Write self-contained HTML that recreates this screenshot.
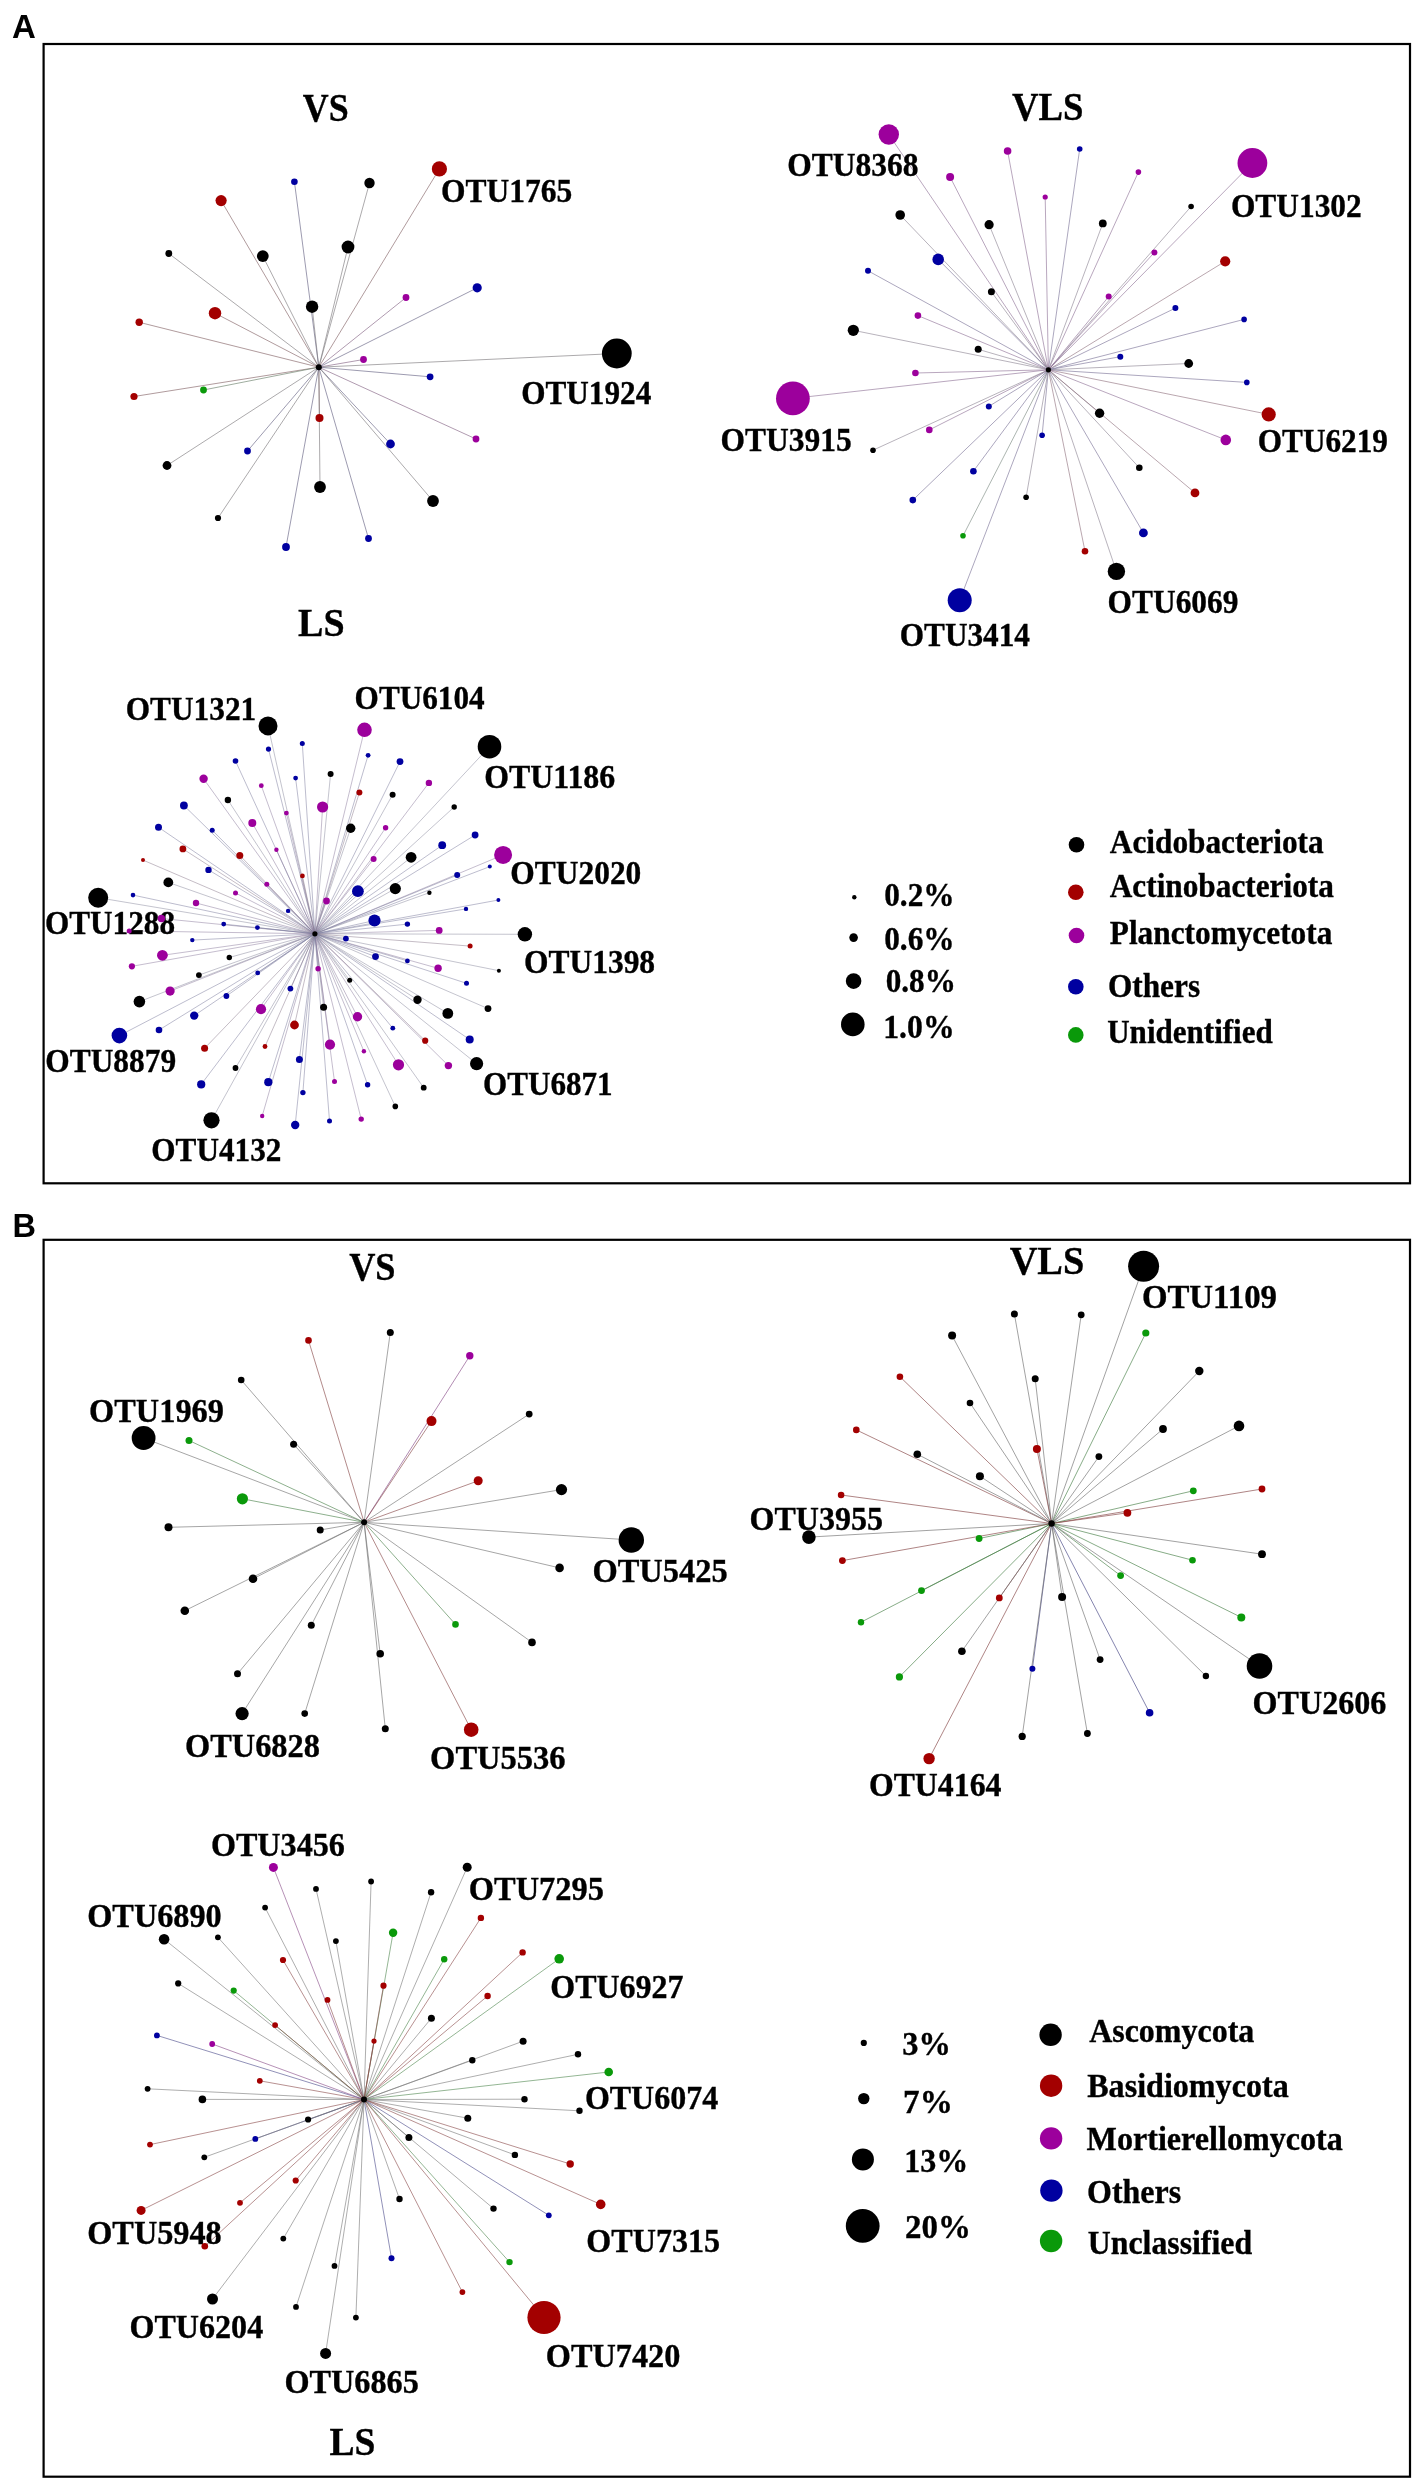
<!DOCTYPE html><html><head><meta charset="utf-8"><style>html,body{margin:0;padding:0;background:#fff;}svg{display:block;filter:blur(0.4px);}text{font-family:"Liberation Serif",serif;font-weight:bold;fill:#000;stroke:#000;stroke-width:0.35px;}.lab{font-family:"Liberation Sans",sans-serif;font-weight:bold;stroke:none;}</style></head><body>
<svg width="1421" height="2483" viewBox="0 0 1421 2483">
<rect x="0" y="0" width="1421" height="2483" fill="#fff"/>
<rect x="43.6" y="44" width="1366.4" height="1139.3" fill="none" stroke="#000" stroke-width="2.2"/>
<rect x="43.6" y="1239.8" width="1366.4" height="1236.9" fill="none" stroke="#000" stroke-width="2.2"/>
<g stroke-width="1.0" stroke-opacity="0.65" fill="none">
<line x1="318.8" y1="367.2" x2="294.4" y2="181.7" stroke="#696686"/>
<line x1="318.8" y1="367.2" x2="369.5" y2="183.0" stroke="#807c80"/>
<line x1="318.8" y1="367.2" x2="439.4" y2="168.9" stroke="#866669"/>
<line x1="318.8" y1="367.2" x2="221.1" y2="200.6" stroke="#866669"/>
<line x1="318.8" y1="367.2" x2="168.8" y2="253.5" stroke="#807c80"/>
<line x1="318.8" y1="367.2" x2="262.8" y2="256.1" stroke="#807c80"/>
<line x1="318.8" y1="367.2" x2="348.0" y2="247.0" stroke="#807c80"/>
<line x1="318.8" y1="367.2" x2="312.1" y2="306.7" stroke="#807c80"/>
<line x1="318.8" y1="367.2" x2="406.0" y2="297.5" stroke="#856685"/>
<line x1="318.8" y1="367.2" x2="477.2" y2="287.8" stroke="#696686"/>
<line x1="318.8" y1="367.2" x2="215.0" y2="313.2" stroke="#866669"/>
<line x1="318.8" y1="367.2" x2="139.2" y2="322.3" stroke="#866669"/>
<line x1="318.8" y1="367.2" x2="363.5" y2="359.5" stroke="#856685"/>
<line x1="318.8" y1="367.2" x2="616.8" y2="353.5" stroke="#807c80"/>
<line x1="318.8" y1="367.2" x2="430.1" y2="376.8" stroke="#696686"/>
<line x1="318.8" y1="367.2" x2="134.0" y2="396.5" stroke="#866669"/>
<line x1="318.8" y1="367.2" x2="203.5" y2="390.0" stroke="#6b816b"/>
<line x1="318.8" y1="367.2" x2="319.5" y2="418.0" stroke="#866669"/>
<line x1="318.8" y1="367.2" x2="390.5" y2="444.0" stroke="#696686"/>
<line x1="318.8" y1="367.2" x2="476.0" y2="439.0" stroke="#856685"/>
<line x1="318.8" y1="367.2" x2="167.0" y2="465.5" stroke="#807c80"/>
<line x1="318.8" y1="367.2" x2="247.5" y2="451.0" stroke="#696686"/>
<line x1="318.8" y1="367.2" x2="320.0" y2="487.0" stroke="#807c80"/>
<line x1="318.8" y1="367.2" x2="433.0" y2="501.0" stroke="#807c80"/>
<line x1="318.8" y1="367.2" x2="218.0" y2="518.0" stroke="#807c80"/>
<line x1="318.8" y1="367.2" x2="286.0" y2="547.0" stroke="#696686"/>
<line x1="318.8" y1="367.2" x2="368.5" y2="538.5" stroke="#696686"/>
</g>
<g stroke-width="1.0" stroke-opacity="0.6" fill="none">
<line x1="1048.4" y1="369.8" x2="888.8" y2="134.5" stroke="#8b6d92"/>
<line x1="1048.4" y1="369.8" x2="1007.6" y2="151.0" stroke="#8b6d92"/>
<line x1="1048.4" y1="369.8" x2="1079.7" y2="149.0" stroke="#746d92"/>
<line x1="1048.4" y1="369.8" x2="950.1" y2="177.0" stroke="#8b6d92"/>
<line x1="1048.4" y1="369.8" x2="1138.4" y2="172.1" stroke="#8b6d92"/>
<line x1="1048.4" y1="369.8" x2="1045.2" y2="197.0" stroke="#8b6d92"/>
<line x1="1048.4" y1="369.8" x2="1191.1" y2="206.5" stroke="#888090"/>
<line x1="1048.4" y1="369.8" x2="900.2" y2="215.0" stroke="#888090"/>
<line x1="1048.4" y1="369.8" x2="989.1" y2="224.7" stroke="#888090"/>
<line x1="1048.4" y1="369.8" x2="1102.8" y2="223.4" stroke="#888090"/>
<line x1="1048.4" y1="369.8" x2="1252.4" y2="163.0" stroke="#8b6d92"/>
<line x1="1048.4" y1="369.8" x2="1154.4" y2="252.4" stroke="#8b6d92"/>
<line x1="1048.4" y1="369.8" x2="1225.2" y2="261.3" stroke="#8c6d7a"/>
<line x1="1048.4" y1="369.8" x2="938.2" y2="259.4" stroke="#746d92"/>
<line x1="1048.4" y1="369.8" x2="868.0" y2="270.8" stroke="#746d92"/>
<line x1="1048.4" y1="369.8" x2="991.4" y2="291.8" stroke="#888090"/>
<line x1="1048.4" y1="369.8" x2="1108.7" y2="296.6" stroke="#8b6d92"/>
<line x1="1048.4" y1="369.8" x2="1175.4" y2="308.1" stroke="#746d92"/>
<line x1="1048.4" y1="369.8" x2="1244.1" y2="319.4" stroke="#746d92"/>
<line x1="1048.4" y1="369.8" x2="917.9" y2="315.6" stroke="#8b6d92"/>
<line x1="1048.4" y1="369.8" x2="853.3" y2="330.3" stroke="#888090"/>
<line x1="1048.4" y1="369.8" x2="978.2" y2="349.3" stroke="#888090"/>
<line x1="1048.4" y1="369.8" x2="1120.3" y2="356.7" stroke="#746d92"/>
<line x1="1048.4" y1="369.8" x2="1188.7" y2="363.5" stroke="#888090"/>
<line x1="1048.4" y1="369.8" x2="915.4" y2="373.0" stroke="#8b6d92"/>
<line x1="1048.4" y1="369.8" x2="1246.8" y2="382.4" stroke="#746d92"/>
<line x1="1048.4" y1="369.8" x2="792.9" y2="398.4" stroke="#8b6d92"/>
<line x1="1048.4" y1="369.8" x2="988.8" y2="406.4" stroke="#746d92"/>
<line x1="1048.4" y1="369.8" x2="1099.6" y2="413.2" stroke="#888090"/>
<line x1="1048.4" y1="369.8" x2="1268.7" y2="414.4" stroke="#8c6d7a"/>
<line x1="1048.4" y1="369.8" x2="929.3" y2="429.9" stroke="#8b6d92"/>
<line x1="1048.4" y1="369.8" x2="1042.1" y2="435.3" stroke="#746d92"/>
<line x1="1048.4" y1="369.8" x2="1225.8" y2="439.9" stroke="#8b6d92"/>
<line x1="1048.4" y1="369.8" x2="873.0" y2="450.2" stroke="#888090"/>
<line x1="1048.4" y1="369.8" x2="1139.3" y2="467.7" stroke="#888090"/>
<line x1="1048.4" y1="369.8" x2="973.4" y2="471.2" stroke="#746d92"/>
<line x1="1048.4" y1="369.8" x2="1195.0" y2="492.9" stroke="#8c6d7a"/>
<line x1="1048.4" y1="369.8" x2="1026.1" y2="497.3" stroke="#888090"/>
<line x1="1048.4" y1="369.8" x2="912.8" y2="500.1" stroke="#746d92"/>
<line x1="1048.4" y1="369.8" x2="1143.4" y2="532.9" stroke="#746d92"/>
<line x1="1048.4" y1="369.8" x2="963.0" y2="535.8" stroke="#75847c"/>
<line x1="1048.4" y1="369.8" x2="1085.0" y2="551.3" stroke="#8c6d7a"/>
<line x1="1048.4" y1="369.8" x2="1116.4" y2="571.4" stroke="#888090"/>
<line x1="1048.4" y1="369.8" x2="959.7" y2="600.2" stroke="#746d92"/>
</g>
<g stroke-width="1.0" stroke-opacity="0.5" fill="none">
<line x1="314.9" y1="933.8" x2="268.0" y2="725.9" stroke="#8a8a9e"/>
<line x1="314.9" y1="933.8" x2="364.5" y2="729.8" stroke="#8c7c9e"/>
<line x1="314.9" y1="933.8" x2="489.5" y2="746.7" stroke="#8a8a9e"/>
<line x1="314.9" y1="933.8" x2="302.3" y2="743.6" stroke="#7c7c9e"/>
<line x1="314.9" y1="933.8" x2="268.5" y2="749.1" stroke="#7c7c9e"/>
<line x1="314.9" y1="933.8" x2="368.1" y2="755.3" stroke="#7c7c9e"/>
<line x1="314.9" y1="933.8" x2="235.5" y2="761.0" stroke="#7c7c9e"/>
<line x1="314.9" y1="933.8" x2="400.0" y2="761.6" stroke="#7c7c9e"/>
<line x1="314.9" y1="933.8" x2="330.6" y2="773.9" stroke="#8a8a9e"/>
<line x1="314.9" y1="933.8" x2="203.6" y2="778.8" stroke="#8c7c9e"/>
<line x1="314.9" y1="933.8" x2="295.6" y2="778.1" stroke="#7c7c9e"/>
<line x1="314.9" y1="933.8" x2="261.3" y2="785.7" stroke="#8c7c9e"/>
<line x1="314.9" y1="933.8" x2="359.4" y2="792.6" stroke="#8c7c8e"/>
<line x1="314.9" y1="933.8" x2="392.6" y2="794.7" stroke="#8a8a9e"/>
<line x1="314.9" y1="933.8" x2="227.9" y2="800.0" stroke="#8a8a9e"/>
<line x1="314.9" y1="933.8" x2="428.9" y2="782.9" stroke="#8c7c9e"/>
<line x1="314.9" y1="933.8" x2="183.9" y2="805.5" stroke="#7c7c9e"/>
<line x1="314.9" y1="933.8" x2="322.6" y2="807.0" stroke="#8c7c9e"/>
<line x1="314.9" y1="933.8" x2="454.2" y2="807.0" stroke="#8a8a9e"/>
<line x1="314.9" y1="933.8" x2="286.4" y2="813.1" stroke="#8c7c9e"/>
<line x1="314.9" y1="933.8" x2="252.3" y2="823.1" stroke="#8c7c9e"/>
<line x1="314.9" y1="933.8" x2="158.5" y2="827.3" stroke="#7c7c9e"/>
<line x1="314.9" y1="933.8" x2="350.7" y2="828.3" stroke="#8a8a9e"/>
<line x1="314.9" y1="933.8" x2="385.6" y2="827.8" stroke="#8c7c9e"/>
<line x1="314.9" y1="933.8" x2="212.2" y2="830.2" stroke="#7c7c9e"/>
<line x1="314.9" y1="933.8" x2="475.1" y2="835.0" stroke="#7c7c9e"/>
<line x1="314.9" y1="933.8" x2="442.2" y2="845.2" stroke="#7c7c9e"/>
<line x1="314.9" y1="933.8" x2="182.9" y2="848.9" stroke="#8c7c8e"/>
<line x1="314.9" y1="933.8" x2="276.4" y2="849.8" stroke="#8c7c9e"/>
<line x1="314.9" y1="933.8" x2="503.1" y2="854.9" stroke="#8c7c9e"/>
<line x1="314.9" y1="933.8" x2="239.8" y2="855.4" stroke="#8c7c8e"/>
<line x1="314.9" y1="933.8" x2="411.1" y2="857.3" stroke="#8a8a9e"/>
<line x1="314.9" y1="933.8" x2="373.6" y2="859.0" stroke="#8c7c9e"/>
<line x1="314.9" y1="933.8" x2="143.0" y2="860.1" stroke="#8c7c8e"/>
<line x1="314.9" y1="933.8" x2="489.8" y2="866.6" stroke="#7c7c9e"/>
<line x1="314.9" y1="933.8" x2="208.5" y2="869.9" stroke="#7c7c9e"/>
<line x1="314.9" y1="933.8" x2="457.2" y2="875.1" stroke="#7c7c9e"/>
<line x1="314.9" y1="933.8" x2="302.4" y2="875.9" stroke="#8c7c8e"/>
<line x1="314.9" y1="933.8" x2="168.3" y2="882.4" stroke="#8a8a9e"/>
<line x1="314.9" y1="933.8" x2="266.8" y2="884.3" stroke="#8c7c9e"/>
<line x1="314.9" y1="933.8" x2="395.3" y2="888.6" stroke="#8a8a9e"/>
<line x1="314.9" y1="933.8" x2="357.9" y2="891.2" stroke="#7c7c9e"/>
<line x1="314.9" y1="933.8" x2="429.4" y2="892.7" stroke="#8a8a9e"/>
<line x1="314.9" y1="933.8" x2="235.5" y2="893.0" stroke="#8c7c9e"/>
<line x1="314.9" y1="933.8" x2="133.0" y2="895.1" stroke="#7c7c9e"/>
<line x1="314.9" y1="933.8" x2="98.2" y2="897.7" stroke="#8a8a9e"/>
<line x1="314.9" y1="933.8" x2="326.5" y2="901.0" stroke="#8c7c9e"/>
<line x1="314.9" y1="933.8" x2="498.4" y2="900.0" stroke="#7c7c9e"/>
<line x1="314.9" y1="933.8" x2="196.0" y2="903.0" stroke="#8c7c9e"/>
<line x1="314.9" y1="933.8" x2="466.0" y2="908.9" stroke="#7c7c9e"/>
<line x1="314.9" y1="933.8" x2="288.1" y2="910.9" stroke="#7c7c9e"/>
<line x1="314.9" y1="933.8" x2="161.4" y2="918.5" stroke="#8c7c9e"/>
<line x1="314.9" y1="933.8" x2="374.5" y2="920.5" stroke="#7c7c9e"/>
<line x1="314.9" y1="933.8" x2="223.7" y2="924.1" stroke="#7c7c9e"/>
<line x1="314.9" y1="933.8" x2="407.4" y2="924.1" stroke="#7c7c9e"/>
<line x1="314.9" y1="933.8" x2="257.4" y2="927.6" stroke="#7c7c9e"/>
<line x1="314.9" y1="933.8" x2="439.2" y2="930.4" stroke="#8c7c9e"/>
<line x1="314.9" y1="933.8" x2="129.2" y2="930.9" stroke="#8c7c9e"/>
<line x1="314.9" y1="933.8" x2="524.9" y2="934.3" stroke="#8a8a9e"/>
<line x1="314.9" y1="933.8" x2="345.9" y2="938.6" stroke="#7c7c9e"/>
<line x1="314.9" y1="933.8" x2="192.3" y2="940.1" stroke="#7c7c9e"/>
<line x1="314.9" y1="933.8" x2="470.1" y2="946.1" stroke="#8c7c8e"/>
<line x1="314.9" y1="933.8" x2="162.4" y2="955.3" stroke="#8c7c9e"/>
<line x1="314.9" y1="933.8" x2="375.5" y2="956.6" stroke="#7c7c9e"/>
<line x1="314.9" y1="933.8" x2="229.3" y2="957.5" stroke="#8a8a9e"/>
<line x1="314.9" y1="933.8" x2="407.4" y2="960.9" stroke="#7c7c9e"/>
<line x1="314.9" y1="933.8" x2="131.9" y2="966.3" stroke="#8c7c9e"/>
<line x1="314.9" y1="933.8" x2="438.1" y2="968.3" stroke="#8c7c9e"/>
<line x1="314.9" y1="933.8" x2="318.1" y2="968.7" stroke="#8c7c9e"/>
<line x1="314.9" y1="933.8" x2="498.9" y2="970.7" stroke="#8a8a9e"/>
<line x1="314.9" y1="933.8" x2="257.7" y2="972.9" stroke="#7c7c9e"/>
<line x1="314.9" y1="933.8" x2="198.9" y2="975.1" stroke="#8a8a9e"/>
<line x1="314.9" y1="933.8" x2="349.7" y2="980.3" stroke="#8a8a9e"/>
<line x1="314.9" y1="933.8" x2="466.5" y2="983.3" stroke="#7c7c9e"/>
<line x1="314.9" y1="933.8" x2="290.4" y2="988.6" stroke="#7c7c9e"/>
<line x1="314.9" y1="933.8" x2="170.1" y2="991.1" stroke="#8c7c9e"/>
<line x1="314.9" y1="933.8" x2="226.4" y2="996.0" stroke="#7c7c9e"/>
<line x1="314.9" y1="933.8" x2="417.5" y2="999.8" stroke="#8a8a9e"/>
<line x1="314.9" y1="933.8" x2="139.4" y2="1001.6" stroke="#8a8a9e"/>
<line x1="314.9" y1="933.8" x2="323.6" y2="1007.3" stroke="#8a8a9e"/>
<line x1="314.9" y1="933.8" x2="488.0" y2="1008.6" stroke="#8a8a9e"/>
<line x1="314.9" y1="933.8" x2="261.0" y2="1009.2" stroke="#8c7c9e"/>
<line x1="314.9" y1="933.8" x2="447.8" y2="1013.4" stroke="#8a8a9e"/>
<line x1="314.9" y1="933.8" x2="194.2" y2="1015.6" stroke="#7c7c9e"/>
<line x1="314.9" y1="933.8" x2="357.5" y2="1016.8" stroke="#8c7c9e"/>
<line x1="314.9" y1="933.8" x2="294.5" y2="1025.0" stroke="#8c7c8e"/>
<line x1="314.9" y1="933.8" x2="392.8" y2="1028.2" stroke="#7c7c9e"/>
<line x1="314.9" y1="933.8" x2="159.0" y2="1030.0" stroke="#7c7c9e"/>
<line x1="314.9" y1="933.8" x2="119.4" y2="1035.6" stroke="#7c7c9e"/>
<line x1="314.9" y1="933.8" x2="469.7" y2="1039.6" stroke="#7c7c9e"/>
<line x1="314.9" y1="933.8" x2="425.2" y2="1040.7" stroke="#8c7c8e"/>
<line x1="314.9" y1="933.8" x2="330.0" y2="1044.6" stroke="#8c7c9e"/>
<line x1="314.9" y1="933.8" x2="265.0" y2="1046.5" stroke="#8c7c8e"/>
<line x1="314.9" y1="933.8" x2="204.6" y2="1048.3" stroke="#8c7c8e"/>
<line x1="314.9" y1="933.8" x2="363.9" y2="1051.2" stroke="#8c7c9e"/>
<line x1="314.9" y1="933.8" x2="299.4" y2="1059.4" stroke="#7c7c9e"/>
<line x1="314.9" y1="933.8" x2="476.6" y2="1063.7" stroke="#8a8a9e"/>
<line x1="314.9" y1="933.8" x2="398.5" y2="1064.8" stroke="#8c7c9e"/>
<line x1="314.9" y1="933.8" x2="448.4" y2="1065.6" stroke="#8c7c9e"/>
<line x1="314.9" y1="933.8" x2="235.5" y2="1068.0" stroke="#8a8a9e"/>
<line x1="314.9" y1="933.8" x2="334.5" y2="1081.6" stroke="#8c7c9e"/>
<line x1="314.9" y1="933.8" x2="268.3" y2="1082.2" stroke="#7c7c9e"/>
<line x1="314.9" y1="933.8" x2="201.2" y2="1084.4" stroke="#7c7c9e"/>
<line x1="314.9" y1="933.8" x2="367.6" y2="1084.8" stroke="#7c7c9e"/>
<line x1="314.9" y1="933.8" x2="423.7" y2="1087.7" stroke="#8a8a9e"/>
<line x1="314.9" y1="933.8" x2="302.9" y2="1092.6" stroke="#7c7c9e"/>
<line x1="314.9" y1="933.8" x2="395.3" y2="1106.4" stroke="#8a8a9e"/>
<line x1="314.9" y1="933.8" x2="262.2" y2="1116.0" stroke="#8c7c9e"/>
<line x1="314.9" y1="933.8" x2="361.2" y2="1119.1" stroke="#8c7c9e"/>
<line x1="314.9" y1="933.8" x2="211.5" y2="1120.3" stroke="#8a8a9e"/>
<line x1="314.9" y1="933.8" x2="329.5" y2="1120.9" stroke="#7c7c9e"/>
<line x1="314.9" y1="933.8" x2="295.2" y2="1125.0" stroke="#7c7c9e"/>
</g>
<g stroke-width="1.0" stroke-opacity="0.62" fill="none">
<line x1="364.1" y1="1522.3" x2="390.3" y2="1332.4" stroke="#707070"/>
<line x1="364.1" y1="1522.3" x2="308.5" y2="1340.4" stroke="#844343"/>
<line x1="364.1" y1="1522.3" x2="469.8" y2="1355.8" stroke="#824382"/>
<line x1="364.1" y1="1522.3" x2="241.2" y2="1380.0" stroke="#707070"/>
<line x1="364.1" y1="1522.3" x2="529.2" y2="1414.1" stroke="#707070"/>
<line x1="364.1" y1="1522.3" x2="431.5" y2="1421.1" stroke="#844343"/>
<line x1="364.1" y1="1522.3" x2="143.6" y2="1438.0" stroke="#707070"/>
<line x1="364.1" y1="1522.3" x2="189.0" y2="1440.5" stroke="#478047"/>
<line x1="364.1" y1="1522.3" x2="293.6" y2="1444.3" stroke="#707070"/>
<line x1="364.1" y1="1522.3" x2="478.2" y2="1480.8" stroke="#844343"/>
<line x1="364.1" y1="1522.3" x2="561.5" y2="1489.6" stroke="#707070"/>
<line x1="364.1" y1="1522.3" x2="242.4" y2="1498.8" stroke="#478047"/>
<line x1="364.1" y1="1522.3" x2="168.5" y2="1527.3" stroke="#707070"/>
<line x1="364.1" y1="1522.3" x2="320.2" y2="1530.0" stroke="#707070"/>
<line x1="364.1" y1="1522.3" x2="631.3" y2="1540.0" stroke="#707070"/>
<line x1="364.1" y1="1522.3" x2="559.6" y2="1567.9" stroke="#707070"/>
<line x1="364.1" y1="1522.3" x2="253.0" y2="1578.8" stroke="#707070"/>
<line x1="364.1" y1="1522.3" x2="184.8" y2="1610.7" stroke="#707070"/>
<line x1="364.1" y1="1522.3" x2="311.3" y2="1625.2" stroke="#707070"/>
<line x1="364.1" y1="1522.3" x2="455.5" y2="1624.4" stroke="#478047"/>
<line x1="364.1" y1="1522.3" x2="532.0" y2="1642.4" stroke="#707070"/>
<line x1="364.1" y1="1522.3" x2="380.2" y2="1653.8" stroke="#707070"/>
<line x1="364.1" y1="1522.3" x2="237.5" y2="1673.8" stroke="#707070"/>
<line x1="364.1" y1="1522.3" x2="242.1" y2="1713.6" stroke="#707070"/>
<line x1="364.1" y1="1522.3" x2="304.7" y2="1713.6" stroke="#707070"/>
<line x1="364.1" y1="1522.3" x2="385.3" y2="1728.8" stroke="#707070"/>
<line x1="364.1" y1="1522.3" x2="471.2" y2="1729.7" stroke="#844343"/>
</g>
<g stroke-width="1.0" stroke-opacity="0.65" fill="none">
<line x1="1051.6" y1="1523.5" x2="1143.6" y2="1266.3" stroke="#707070"/>
<line x1="1051.6" y1="1523.5" x2="1014.4" y2="1314.1" stroke="#707070"/>
<line x1="1051.6" y1="1523.5" x2="1081.2" y2="1314.8" stroke="#707070"/>
<line x1="1051.6" y1="1523.5" x2="1145.8" y2="1333.0" stroke="#478047"/>
<line x1="1051.6" y1="1523.5" x2="952.1" y2="1335.6" stroke="#707070"/>
<line x1="1051.6" y1="1523.5" x2="1199.3" y2="1371.0" stroke="#707070"/>
<line x1="1051.6" y1="1523.5" x2="899.9" y2="1376.7" stroke="#844343"/>
<line x1="1051.6" y1="1523.5" x2="1035.2" y2="1378.7" stroke="#707070"/>
<line x1="1051.6" y1="1523.5" x2="970.0" y2="1403.0" stroke="#707070"/>
<line x1="1051.6" y1="1523.5" x2="1239.0" y2="1425.9" stroke="#707070"/>
<line x1="1051.6" y1="1523.5" x2="1163.0" y2="1429.0" stroke="#707070"/>
<line x1="1051.6" y1="1523.5" x2="856.3" y2="1429.9" stroke="#844343"/>
<line x1="1051.6" y1="1523.5" x2="1036.9" y2="1449.0" stroke="#844343"/>
<line x1="1051.6" y1="1523.5" x2="917.3" y2="1454.2" stroke="#707070"/>
<line x1="1051.6" y1="1523.5" x2="1098.9" y2="1456.6" stroke="#707070"/>
<line x1="1051.6" y1="1523.5" x2="979.9" y2="1476.2" stroke="#707070"/>
<line x1="1051.6" y1="1523.5" x2="1262.0" y2="1489.0" stroke="#844343"/>
<line x1="1051.6" y1="1523.5" x2="1193.3" y2="1490.8" stroke="#478047"/>
<line x1="1051.6" y1="1523.5" x2="841.1" y2="1495.0" stroke="#844343"/>
<line x1="1051.6" y1="1523.5" x2="1127.4" y2="1512.8" stroke="#844343"/>
<line x1="1051.6" y1="1523.5" x2="808.9" y2="1537.1" stroke="#707070"/>
<line x1="1051.6" y1="1523.5" x2="979.1" y2="1538.5" stroke="#478047"/>
<line x1="1051.6" y1="1523.5" x2="1262.0" y2="1554.2" stroke="#707070"/>
<line x1="1051.6" y1="1523.5" x2="842.4" y2="1560.6" stroke="#844343"/>
<line x1="1051.6" y1="1523.5" x2="1192.5" y2="1560.2" stroke="#478047"/>
<line x1="1051.6" y1="1523.5" x2="1120.6" y2="1575.6" stroke="#478047"/>
<line x1="1051.6" y1="1523.5" x2="921.5" y2="1590.6" stroke="#478047"/>
<line x1="1051.6" y1="1523.5" x2="1062.1" y2="1597.0" stroke="#707070"/>
<line x1="1051.6" y1="1523.5" x2="999.3" y2="1597.9" stroke="#844343"/>
<line x1="1051.6" y1="1523.5" x2="1241.3" y2="1617.4" stroke="#478047"/>
<line x1="1051.6" y1="1523.5" x2="861.0" y2="1622.2" stroke="#478047"/>
<line x1="1051.6" y1="1523.5" x2="961.9" y2="1651.2" stroke="#707070"/>
<line x1="1051.6" y1="1523.5" x2="1100.1" y2="1659.6" stroke="#707070"/>
<line x1="1051.6" y1="1523.5" x2="1259.5" y2="1666.0" stroke="#707070"/>
<line x1="1051.6" y1="1523.5" x2="1032.4" y2="1668.7" stroke="#434383"/>
<line x1="1051.6" y1="1523.5" x2="1205.9" y2="1676.0" stroke="#707070"/>
<line x1="1051.6" y1="1523.5" x2="899.4" y2="1676.9" stroke="#478047"/>
<line x1="1051.6" y1="1523.5" x2="1149.6" y2="1712.7" stroke="#434383"/>
<line x1="1051.6" y1="1523.5" x2="1087.4" y2="1733.5" stroke="#707070"/>
<line x1="1051.6" y1="1523.5" x2="1022.2" y2="1736.4" stroke="#707070"/>
<line x1="1051.6" y1="1523.5" x2="929.1" y2="1758.6" stroke="#844343"/>
</g>
<g stroke-width="1.0" stroke-opacity="0.6" fill="none">
<line x1="364.0" y1="2099.5" x2="273.4" y2="1867.4" stroke="#864886"/>
<line x1="364.0" y1="2099.5" x2="467.2" y2="1867.3" stroke="#787878"/>
<line x1="364.0" y1="2099.5" x2="371.1" y2="1881.5" stroke="#787878"/>
<line x1="364.0" y1="2099.5" x2="316.0" y2="1888.9" stroke="#787878"/>
<line x1="364.0" y1="2099.5" x2="431.1" y2="1892.2" stroke="#787878"/>
<line x1="364.0" y1="2099.5" x2="265.1" y2="1907.6" stroke="#787878"/>
<line x1="364.0" y1="2099.5" x2="480.9" y2="1917.9" stroke="#894848"/>
<line x1="364.0" y1="2099.5" x2="393.1" y2="1932.7" stroke="#4c854c"/>
<line x1="364.0" y1="2099.5" x2="217.9" y2="1937.3" stroke="#787878"/>
<line x1="364.0" y1="2099.5" x2="164.1" y2="1939.2" stroke="#787878"/>
<line x1="364.0" y1="2099.5" x2="335.9" y2="1941.1" stroke="#787878"/>
<line x1="364.0" y1="2099.5" x2="522.6" y2="1952.4" stroke="#894848"/>
<line x1="364.0" y1="2099.5" x2="559.2" y2="1958.8" stroke="#4c854c"/>
<line x1="364.0" y1="2099.5" x2="444.2" y2="1959.3" stroke="#4c854c"/>
<line x1="364.0" y1="2099.5" x2="283.0" y2="1960.0" stroke="#894848"/>
<line x1="364.0" y1="2099.5" x2="178.2" y2="1983.4" stroke="#787878"/>
<line x1="364.0" y1="2099.5" x2="383.5" y2="1985.7" stroke="#894848"/>
<line x1="364.0" y1="2099.5" x2="233.7" y2="1990.6" stroke="#4c854c"/>
<line x1="364.0" y1="2099.5" x2="487.6" y2="1996.0" stroke="#894848"/>
<line x1="364.0" y1="2099.5" x2="327.5" y2="1999.9" stroke="#894848"/>
<line x1="364.0" y1="2099.5" x2="431.4" y2="2018.2" stroke="#787878"/>
<line x1="364.0" y1="2099.5" x2="275.1" y2="2025.1" stroke="#894848"/>
<line x1="364.0" y1="2099.5" x2="156.9" y2="2035.4" stroke="#484888"/>
<line x1="364.0" y1="2099.5" x2="374.0" y2="2041.1" stroke="#894848"/>
<line x1="364.0" y1="2099.5" x2="523.1" y2="2041.2" stroke="#787878"/>
<line x1="364.0" y1="2099.5" x2="212.2" y2="2044.0" stroke="#864886"/>
<line x1="364.0" y1="2099.5" x2="578.0" y2="2054.3" stroke="#787878"/>
<line x1="364.0" y1="2099.5" x2="472.3" y2="2060.2" stroke="#787878"/>
<line x1="364.0" y1="2099.5" x2="608.7" y2="2072.0" stroke="#4c854c"/>
<line x1="364.0" y1="2099.5" x2="259.8" y2="2080.8" stroke="#894848"/>
<line x1="364.0" y1="2099.5" x2="147.6" y2="2088.8" stroke="#787878"/>
<line x1="364.0" y1="2099.5" x2="524.5" y2="2099.2" stroke="#787878"/>
<line x1="364.0" y1="2099.5" x2="202.4" y2="2099.4" stroke="#787878"/>
<line x1="364.0" y1="2099.5" x2="579.5" y2="2110.8" stroke="#787878"/>
<line x1="364.0" y1="2099.5" x2="467.8" y2="2118.2" stroke="#787878"/>
<line x1="364.0" y1="2099.5" x2="308.1" y2="2119.5" stroke="#787878"/>
<line x1="364.0" y1="2099.5" x2="408.9" y2="2137.5" stroke="#787878"/>
<line x1="364.0" y1="2099.5" x2="255.3" y2="2138.9" stroke="#484888"/>
<line x1="364.0" y1="2099.5" x2="150.0" y2="2144.6" stroke="#894848"/>
<line x1="364.0" y1="2099.5" x2="514.9" y2="2154.9" stroke="#787878"/>
<line x1="364.0" y1="2099.5" x2="204.3" y2="2157.3" stroke="#787878"/>
<line x1="364.0" y1="2099.5" x2="570.2" y2="2164.0" stroke="#894848"/>
<line x1="364.0" y1="2099.5" x2="295.7" y2="2180.5" stroke="#894848"/>
<line x1="364.0" y1="2099.5" x2="399.5" y2="2199.0" stroke="#787878"/>
<line x1="364.0" y1="2099.5" x2="600.7" y2="2204.4" stroke="#894848"/>
<line x1="364.0" y1="2099.5" x2="240.0" y2="2202.8" stroke="#894848"/>
<line x1="364.0" y1="2099.5" x2="493.5" y2="2208.6" stroke="#787878"/>
<line x1="364.0" y1="2099.5" x2="141.1" y2="2210.4" stroke="#894848"/>
<line x1="364.0" y1="2099.5" x2="548.8" y2="2215.3" stroke="#484888"/>
<line x1="364.0" y1="2099.5" x2="283.3" y2="2238.6" stroke="#787878"/>
<line x1="364.0" y1="2099.5" x2="204.8" y2="2246.3" stroke="#894848"/>
<line x1="364.0" y1="2099.5" x2="391.5" y2="2258.2" stroke="#484888"/>
<line x1="364.0" y1="2099.5" x2="509.5" y2="2262.1" stroke="#4c854c"/>
<line x1="364.0" y1="2099.5" x2="334.5" y2="2265.9" stroke="#787878"/>
<line x1="364.0" y1="2099.5" x2="462.4" y2="2292.1" stroke="#894848"/>
<line x1="364.0" y1="2099.5" x2="212.5" y2="2299.0" stroke="#787878"/>
<line x1="364.0" y1="2099.5" x2="296.0" y2="2306.9" stroke="#787878"/>
<line x1="364.0" y1="2099.5" x2="355.9" y2="2317.6" stroke="#787878"/>
<line x1="364.0" y1="2099.5" x2="544.0" y2="2317.5" stroke="#894848"/>
<line x1="364.0" y1="2099.5" x2="325.6" y2="2353.4" stroke="#787878"/>
</g>
<text class="lab" x="11.9" y="37.6" font-size="33">A</text>
<text class="lab" x="12.6" y="1237.0" font-size="32.5">B</text>
<text x="0" y="0" font-size="39.80" transform="translate(302.86 121.18) scale(0.9020 1)">VS</text>
<text x="0" y="0" font-size="33.00" transform="translate(441.04 201.53) scale(0.9545 1)">OTU1765</text>
<text x="0" y="0" font-size="33.00" transform="translate(521.26 404.25) scale(0.9457 1)">OTU1924</text>
<text x="0" y="0" font-size="39.80" transform="translate(1012.00 120.46) scale(0.9239 1)">VLS</text>
<text x="0" y="0" font-size="33.00" transform="translate(787.26 175.53) scale(0.9545 1)">OTU8368</text>
<text x="0" y="0" font-size="33.00" transform="translate(1230.90 216.61) scale(0.9519 1)">OTU1302</text>
<text x="0" y="0" font-size="33.00" transform="translate(720.40 450.67) scale(0.9556 1)">OTU3915</text>
<text x="0" y="0" font-size="33.00" transform="translate(1257.76 451.67) scale(0.9477 1)">OTU6219</text>
<text x="0" y="0" font-size="33.00" transform="translate(1107.62 613.17) scale(0.9519 1)">OTU6069</text>
<text x="0" y="0" font-size="33.00" transform="translate(899.76 646.39) scale(0.9477 1)">OTU3414</text>
<text x="0" y="0" font-size="39.80" transform="translate(298.06 636.46) scale(0.9561 1)">LS</text>
<text x="0" y="0" font-size="33.00" transform="translate(125.76 720.11) scale(0.9489 1)">OTU1321</text>
<text x="0" y="0" font-size="33.00" transform="translate(354.62 708.67) scale(0.9461 1)">OTU6104</text>
<text x="0" y="0" font-size="33.00" transform="translate(484.26 787.53) scale(0.9657 1)">OTU1186</text>
<text x="0" y="0" font-size="33.00" transform="translate(510.34 884.11) scale(0.9529 1)">OTU2020</text>
<text x="0" y="0" font-size="33.00" transform="translate(44.98 934.17) scale(0.9461 1)">OTU1288</text>
<text x="0" y="0" font-size="33.00" transform="translate(523.98 973.03) scale(0.9540 1)">OTU1398</text>
<text x="0" y="0" font-size="33.00" transform="translate(45.26 1072.17) scale(0.9519 1)">OTU8879</text>
<text x="0" y="0" font-size="33.00" transform="translate(483.04 1095.11) scale(0.9422 1)">OTU6871</text>
<text x="0" y="0" font-size="33.00" transform="translate(151.34 1161.17) scale(0.9461 1)">OTU4132</text>
<text x="0" y="0" font-size="33.00" transform="translate(884.20 905.54) scale(0.9484 1)">0.2%</text>
<text x="0" y="0" font-size="33.00" transform="translate(884.20 950.48) scale(0.9484 1)">0.6%</text>
<text x="0" y="0" font-size="33.00" transform="translate(885.70 992.26) scale(0.9455 1)">0.8%</text>
<text x="0" y="0" font-size="33.00" transform="translate(883.24 1037.76) scale(0.9613 1)">1.0%</text>
<text x="0" y="0" font-size="33.00" transform="translate(1109.78 853.03) scale(0.9489 1)">Acidobacteriota</text>
<text x="0" y="0" font-size="33.00" transform="translate(1109.78 897.17) scale(0.9480 1)">Actinobacteriota</text>
<text x="0" y="0" font-size="33.00" transform="translate(1109.78 944.37) scale(0.9489 1)">Planctomycetota</text>
<text x="0" y="0" font-size="33.00" transform="translate(1107.90 996.53) scale(0.9496 1)">Others</text>
<text x="0" y="0" font-size="33.00" transform="translate(1107.20 1043.11) scale(0.9411 1)">Unidentified</text>
<text x="0" y="0" font-size="39.80" transform="translate(349.14 1279.54) scale(0.9118 1)">VS</text>
<text x="0" y="0" font-size="33.00" transform="translate(89.12 1421.53) scale(0.9810 1)">OTU1969</text>
<text x="0" y="0" font-size="33.00" transform="translate(592.48 1581.67) scale(0.9836 1)">OTU5425</text>
<text x="0" y="0" font-size="33.00" transform="translate(184.98 1756.75) scale(0.9820 1)">OTU6828</text>
<text x="0" y="0" font-size="33.00" transform="translate(430.12 1768.67) scale(0.9857 1)">OTU5536</text>
<text x="0" y="0" font-size="39.80" transform="translate(1009.64 1274.04) scale(0.9637 1)">VLS</text>
<text x="0" y="0" font-size="33.00" transform="translate(1141.90 1307.67) scale(0.9958 1)">OTU1109</text>
<text x="0" y="0" font-size="33.00" transform="translate(749.48 1530.25) scale(0.9711 1)">OTU3955</text>
<text x="0" y="0" font-size="33.00" transform="translate(1252.62 1713.75) scale(0.9732 1)">OTU2606</text>
<text x="0" y="0" font-size="33.00" transform="translate(868.90 1795.67) scale(0.9643 1)">OTU4164</text>
<text x="0" y="0" font-size="33.00" transform="translate(210.90 1855.61) scale(0.9748 1)">OTU3456</text>
<text x="0" y="0" font-size="33.00" transform="translate(468.76 1899.75) scale(0.9836 1)">OTU7295</text>
<text x="0" y="0" font-size="33.00" transform="translate(87.26 1926.75) scale(0.9784 1)">OTU6890</text>
<text x="0" y="0" font-size="33.00" transform="translate(550.26 1998.25) scale(0.9695 1)">OTU6927</text>
<text x="0" y="0" font-size="33.00" transform="translate(584.90 2108.61) scale(0.9695 1)">OTU6074</text>
<text x="0" y="0" font-size="33.00" transform="translate(586.34 2251.89) scale(0.9732 1)">OTU7315</text>
<text x="0" y="0" font-size="33.00" transform="translate(87.26 2243.67) scale(0.9784 1)">OTU5948</text>
<text x="0" y="0" font-size="33.00" transform="translate(129.48 2338.11) scale(0.9726 1)">OTU6204</text>
<text x="0" y="0" font-size="33.00" transform="translate(545.76 2366.89) scale(0.9790 1)">OTU7420</text>
<text x="0" y="0" font-size="33.00" transform="translate(284.48 2392.61) scale(0.9774 1)">OTU6865</text>
<text x="0" y="0" font-size="39.80" transform="translate(329.42 2454.68) scale(0.9442 1)">LS</text>
<text x="0" y="0" font-size="33.00" transform="translate(902.34 2055.29) scale(0.9826 1)">3%</text>
<text x="0" y="0" font-size="33.00" transform="translate(903.12 2113.29) scale(1.0044 1)">7%</text>
<text x="0" y="0" font-size="33.00" transform="translate(904.18 2171.79) scale(0.9700 1)">13%</text>
<text x="0" y="0" font-size="33.00" transform="translate(904.98 2237.57) scale(0.9979 1)">20%</text>
<text x="0" y="0" font-size="33.00" transform="translate(1089.14 2042.47) scale(0.9693 1)">Ascomycota</text>
<text x="0" y="0" font-size="33.00" transform="translate(1087.20 2097.17) scale(0.9727 1)">Basidiomycota</text>
<text x="0" y="0" font-size="33.00" transform="translate(1086.56 2149.57) scale(0.9740 1)">Mortierellomycota</text>
<text x="0" y="0" font-size="33.00" transform="translate(1087.04 2203.39) scale(0.9694 1)">Others</text>
<text x="0" y="0" font-size="33.00" transform="translate(1087.84 2254.03) scale(0.9636 1)">Unclassified</text>
<g>
<circle cx="294.4" cy="181.7" r="3.3" fill="#0000a0"/>
<circle cx="369.5" cy="183.0" r="5.2" fill="#000000"/>
<circle cx="439.4" cy="168.9" r="7.6" fill="#a30000"/>
<circle cx="221.1" cy="200.6" r="5.6" fill="#a30000"/>
<circle cx="168.8" cy="253.5" r="3.4" fill="#000000"/>
<circle cx="262.8" cy="256.1" r="5.9" fill="#000000"/>
<circle cx="348.0" cy="247.0" r="6.4" fill="#000000"/>
<circle cx="312.1" cy="306.7" r="6.2" fill="#000000"/>
<circle cx="406.0" cy="297.5" r="3.4" fill="#9c009c"/>
<circle cx="477.2" cy="287.8" r="4.6" fill="#0000a0"/>
<circle cx="215.0" cy="313.2" r="6.2" fill="#a30000"/>
<circle cx="139.2" cy="322.3" r="3.7" fill="#a30000"/>
<circle cx="363.5" cy="359.5" r="3.4" fill="#9c009c"/>
<circle cx="616.8" cy="353.5" r="14.9" fill="#000000"/>
<circle cx="430.1" cy="376.8" r="3.4" fill="#0000a0"/>
<circle cx="134.0" cy="396.5" r="3.6" fill="#a30000"/>
<circle cx="203.5" cy="390.0" r="3.4" fill="#0a990a"/>
<circle cx="319.5" cy="418.0" r="4.0" fill="#a30000"/>
<circle cx="390.5" cy="444.0" r="4.4" fill="#0000a0"/>
<circle cx="476.0" cy="439.0" r="3.4" fill="#9c009c"/>
<circle cx="167.0" cy="465.5" r="4.4" fill="#000000"/>
<circle cx="247.5" cy="451.0" r="3.4" fill="#0000a0"/>
<circle cx="320.0" cy="487.0" r="5.9" fill="#000000"/>
<circle cx="433.0" cy="501.0" r="5.9" fill="#000000"/>
<circle cx="218.0" cy="518.0" r="3.1" fill="#000000"/>
<circle cx="286.0" cy="547.0" r="3.9" fill="#0000a0"/>
<circle cx="368.5" cy="538.5" r="3.4" fill="#0000a0"/>
<circle cx="318.8" cy="367.2" r="3.0" fill="#000"/>
</g>
<g>
<circle cx="888.8" cy="134.5" r="10.2" fill="#9c009c"/>
<circle cx="1007.6" cy="151.0" r="3.8" fill="#9c009c"/>
<circle cx="1079.7" cy="149.0" r="2.8" fill="#0000a0"/>
<circle cx="950.1" cy="177.0" r="4.0" fill="#9c009c"/>
<circle cx="1138.4" cy="172.1" r="2.8" fill="#9c009c"/>
<circle cx="1045.2" cy="197.0" r="2.6" fill="#9c009c"/>
<circle cx="1191.1" cy="206.5" r="2.8" fill="#000000"/>
<circle cx="900.2" cy="215.0" r="4.8" fill="#000000"/>
<circle cx="989.1" cy="224.7" r="4.6" fill="#000000"/>
<circle cx="1102.8" cy="223.4" r="3.9" fill="#000000"/>
<circle cx="1252.4" cy="163.0" r="14.9" fill="#9c009c"/>
<circle cx="1154.4" cy="252.4" r="3.0" fill="#9c009c"/>
<circle cx="1225.2" cy="261.3" r="5.1" fill="#a30000"/>
<circle cx="938.2" cy="259.4" r="5.8" fill="#0000a0"/>
<circle cx="868.0" cy="270.8" r="3.0" fill="#0000a0"/>
<circle cx="991.4" cy="291.8" r="3.5" fill="#000000"/>
<circle cx="1108.7" cy="296.6" r="3.0" fill="#9c009c"/>
<circle cx="1175.4" cy="308.1" r="3.0" fill="#0000a0"/>
<circle cx="1244.1" cy="319.4" r="2.8" fill="#0000a0"/>
<circle cx="917.9" cy="315.6" r="3.3" fill="#9c009c"/>
<circle cx="853.3" cy="330.3" r="5.6" fill="#000000"/>
<circle cx="978.2" cy="349.3" r="3.5" fill="#000000"/>
<circle cx="1120.3" cy="356.7" r="3.0" fill="#0000a0"/>
<circle cx="1188.7" cy="363.5" r="4.4" fill="#000000"/>
<circle cx="915.4" cy="373.0" r="3.3" fill="#9c009c"/>
<circle cx="1246.8" cy="382.4" r="2.8" fill="#0000a0"/>
<circle cx="792.9" cy="398.4" r="16.9" fill="#9c009c"/>
<circle cx="988.8" cy="406.4" r="3.0" fill="#0000a0"/>
<circle cx="1099.6" cy="413.2" r="4.7" fill="#000000"/>
<circle cx="1268.7" cy="414.4" r="7.1" fill="#a30000"/>
<circle cx="929.3" cy="429.9" r="3.3" fill="#9c009c"/>
<circle cx="1042.1" cy="435.3" r="2.8" fill="#0000a0"/>
<circle cx="1225.8" cy="439.9" r="5.3" fill="#9c009c"/>
<circle cx="873.0" cy="450.2" r="2.8" fill="#000000"/>
<circle cx="1139.3" cy="467.7" r="3.3" fill="#000000"/>
<circle cx="973.4" cy="471.2" r="3.3" fill="#0000a0"/>
<circle cx="1195.0" cy="492.9" r="4.4" fill="#a30000"/>
<circle cx="1026.1" cy="497.3" r="2.8" fill="#000000"/>
<circle cx="912.8" cy="500.1" r="3.3" fill="#0000a0"/>
<circle cx="1143.4" cy="532.9" r="4.4" fill="#0000a0"/>
<circle cx="963.0" cy="535.8" r="2.8" fill="#0a990a"/>
<circle cx="1085.0" cy="551.3" r="3.3" fill="#a30000"/>
<circle cx="1116.4" cy="571.4" r="8.7" fill="#000000"/>
<circle cx="959.7" cy="600.2" r="12.0" fill="#0000a0"/>
<circle cx="1048.4" cy="369.8" r="2.6" fill="#000"/>
</g>
<g>
<circle cx="268.0" cy="725.9" r="9.5" fill="#000000"/>
<circle cx="364.5" cy="729.8" r="7.3" fill="#9c009c"/>
<circle cx="489.5" cy="746.7" r="11.8" fill="#000000"/>
<circle cx="302.3" cy="743.6" r="2.5" fill="#0000a0"/>
<circle cx="268.5" cy="749.1" r="2.6" fill="#0000a0"/>
<circle cx="368.1" cy="755.3" r="2.4" fill="#0000a0"/>
<circle cx="235.5" cy="761.0" r="2.8" fill="#0000a0"/>
<circle cx="400.0" cy="761.6" r="3.4" fill="#0000a0"/>
<circle cx="330.6" cy="773.9" r="3.0" fill="#000000"/>
<circle cx="203.6" cy="778.8" r="4.2" fill="#9c009c"/>
<circle cx="295.6" cy="778.1" r="2.4" fill="#0000a0"/>
<circle cx="261.3" cy="785.7" r="2.4" fill="#9c009c"/>
<circle cx="359.4" cy="792.6" r="3.0" fill="#a30000"/>
<circle cx="392.6" cy="794.7" r="3.0" fill="#000000"/>
<circle cx="227.9" cy="800.0" r="3.2" fill="#000000"/>
<circle cx="428.9" cy="782.9" r="3.2" fill="#9c009c"/>
<circle cx="183.9" cy="805.5" r="3.9" fill="#0000a0"/>
<circle cx="322.6" cy="807.0" r="5.6" fill="#9c009c"/>
<circle cx="454.2" cy="807.0" r="2.7" fill="#000000"/>
<circle cx="286.4" cy="813.1" r="2.4" fill="#9c009c"/>
<circle cx="252.3" cy="823.1" r="4.0" fill="#9c009c"/>
<circle cx="158.5" cy="827.3" r="3.5" fill="#0000a0"/>
<circle cx="350.7" cy="828.3" r="4.7" fill="#000000"/>
<circle cx="385.6" cy="827.8" r="2.7" fill="#9c009c"/>
<circle cx="212.2" cy="830.2" r="2.5" fill="#0000a0"/>
<circle cx="475.1" cy="835.0" r="3.4" fill="#0000a0"/>
<circle cx="442.2" cy="845.2" r="3.9" fill="#0000a0"/>
<circle cx="182.9" cy="848.9" r="3.4" fill="#a30000"/>
<circle cx="276.4" cy="849.8" r="2.2" fill="#9c009c"/>
<circle cx="503.1" cy="854.9" r="9.0" fill="#9c009c"/>
<circle cx="239.8" cy="855.4" r="3.5" fill="#a30000"/>
<circle cx="411.1" cy="857.3" r="5.4" fill="#000000"/>
<circle cx="373.6" cy="859.0" r="3.0" fill="#9c009c"/>
<circle cx="143.0" cy="860.1" r="2.0" fill="#a30000"/>
<circle cx="489.8" cy="866.6" r="2.0" fill="#0000a0"/>
<circle cx="208.5" cy="869.9" r="3.2" fill="#0000a0"/>
<circle cx="457.2" cy="875.1" r="3.0" fill="#0000a0"/>
<circle cx="302.4" cy="875.9" r="2.4" fill="#a30000"/>
<circle cx="168.3" cy="882.4" r="4.9" fill="#000000"/>
<circle cx="266.8" cy="884.3" r="2.5" fill="#9c009c"/>
<circle cx="395.3" cy="888.6" r="5.6" fill="#000000"/>
<circle cx="357.9" cy="891.2" r="5.9" fill="#0000a0"/>
<circle cx="429.4" cy="892.7" r="2.2" fill="#000000"/>
<circle cx="235.5" cy="893.0" r="2.5" fill="#9c009c"/>
<circle cx="133.0" cy="895.1" r="2.3" fill="#0000a0"/>
<circle cx="98.2" cy="897.7" r="10.0" fill="#000000"/>
<circle cx="326.5" cy="901.0" r="3.4" fill="#9c009c"/>
<circle cx="498.4" cy="900.0" r="2.0" fill="#0000a0"/>
<circle cx="196.0" cy="903.0" r="3.2" fill="#9c009c"/>
<circle cx="466.0" cy="908.9" r="2.2" fill="#0000a0"/>
<circle cx="288.1" cy="910.9" r="2.2" fill="#0000a0"/>
<circle cx="161.4" cy="918.5" r="3.7" fill="#9c009c"/>
<circle cx="374.5" cy="920.5" r="6.1" fill="#0000a0"/>
<circle cx="223.7" cy="924.1" r="2.4" fill="#0000a0"/>
<circle cx="407.4" cy="924.1" r="2.7" fill="#0000a0"/>
<circle cx="257.4" cy="927.6" r="2.4" fill="#0000a0"/>
<circle cx="439.2" cy="930.4" r="3.4" fill="#9c009c"/>
<circle cx="129.2" cy="930.9" r="2.5" fill="#9c009c"/>
<circle cx="524.9" cy="934.3" r="7.2" fill="#000000"/>
<circle cx="345.9" cy="938.6" r="2.9" fill="#0000a0"/>
<circle cx="192.3" cy="940.1" r="2.2" fill="#0000a0"/>
<circle cx="470.1" cy="946.1" r="2.5" fill="#a30000"/>
<circle cx="162.4" cy="955.3" r="5.4" fill="#9c009c"/>
<circle cx="375.5" cy="956.6" r="3.4" fill="#0000a0"/>
<circle cx="229.3" cy="957.5" r="2.7" fill="#000000"/>
<circle cx="407.4" cy="960.9" r="2.4" fill="#0000a0"/>
<circle cx="131.9" cy="966.3" r="3.1" fill="#9c009c"/>
<circle cx="438.1" cy="968.3" r="3.7" fill="#9c009c"/>
<circle cx="318.1" cy="968.7" r="2.7" fill="#9c009c"/>
<circle cx="498.9" cy="970.7" r="2.0" fill="#000000"/>
<circle cx="257.7" cy="972.9" r="2.4" fill="#0000a0"/>
<circle cx="198.9" cy="975.1" r="2.9" fill="#000000"/>
<circle cx="349.7" cy="980.3" r="2.5" fill="#000000"/>
<circle cx="466.5" cy="983.3" r="2.5" fill="#0000a0"/>
<circle cx="290.4" cy="988.6" r="2.9" fill="#0000a0"/>
<circle cx="170.1" cy="991.1" r="4.6" fill="#9c009c"/>
<circle cx="226.4" cy="996.0" r="2.9" fill="#0000a0"/>
<circle cx="417.5" cy="999.8" r="4.2" fill="#000000"/>
<circle cx="139.4" cy="1001.6" r="5.8" fill="#000000"/>
<circle cx="323.6" cy="1007.3" r="3.5" fill="#000000"/>
<circle cx="488.0" cy="1008.6" r="3.4" fill="#000000"/>
<circle cx="261.0" cy="1009.2" r="5.1" fill="#9c009c"/>
<circle cx="447.8" cy="1013.4" r="5.4" fill="#000000"/>
<circle cx="194.2" cy="1015.6" r="4.2" fill="#0000a0"/>
<circle cx="357.5" cy="1016.8" r="4.7" fill="#9c009c"/>
<circle cx="294.5" cy="1025.0" r="4.4" fill="#a30000"/>
<circle cx="392.8" cy="1028.2" r="2.4" fill="#0000a0"/>
<circle cx="159.0" cy="1030.0" r="3.3" fill="#0000a0"/>
<circle cx="119.4" cy="1035.6" r="7.8" fill="#0000a0"/>
<circle cx="469.7" cy="1039.6" r="4.0" fill="#0000a0"/>
<circle cx="425.2" cy="1040.7" r="3.1" fill="#a30000"/>
<circle cx="330.0" cy="1044.6" r="5.1" fill="#9c009c"/>
<circle cx="265.0" cy="1046.5" r="2.4" fill="#a30000"/>
<circle cx="204.6" cy="1048.3" r="3.5" fill="#a30000"/>
<circle cx="363.9" cy="1051.2" r="2.2" fill="#9c009c"/>
<circle cx="299.4" cy="1059.4" r="3.5" fill="#0000a0"/>
<circle cx="476.6" cy="1063.7" r="6.6" fill="#000000"/>
<circle cx="398.5" cy="1064.8" r="5.6" fill="#9c009c"/>
<circle cx="448.4" cy="1065.6" r="3.7" fill="#9c009c"/>
<circle cx="235.5" cy="1068.0" r="2.9" fill="#000000"/>
<circle cx="334.5" cy="1081.6" r="2.5" fill="#9c009c"/>
<circle cx="268.3" cy="1082.2" r="4.1" fill="#0000a0"/>
<circle cx="201.2" cy="1084.4" r="4.1" fill="#0000a0"/>
<circle cx="367.6" cy="1084.8" r="2.7" fill="#0000a0"/>
<circle cx="423.7" cy="1087.7" r="2.9" fill="#000000"/>
<circle cx="302.9" cy="1092.6" r="2.7" fill="#0000a0"/>
<circle cx="395.3" cy="1106.4" r="2.8" fill="#000000"/>
<circle cx="262.2" cy="1116.0" r="2.2" fill="#9c009c"/>
<circle cx="361.2" cy="1119.1" r="2.7" fill="#9c009c"/>
<circle cx="211.5" cy="1120.3" r="8.1" fill="#000000"/>
<circle cx="329.5" cy="1120.9" r="2.5" fill="#0000a0"/>
<circle cx="295.2" cy="1125.0" r="4.2" fill="#0000a0"/>
<circle cx="314.9" cy="933.8" r="2.6" fill="#000"/>
</g>
<g>
<circle cx="390.3" cy="1332.4" r="3.5" fill="#000000"/>
<circle cx="308.5" cy="1340.4" r="3.3" fill="#a30000"/>
<circle cx="469.8" cy="1355.8" r="3.7" fill="#9c009c"/>
<circle cx="241.2" cy="1380.0" r="3.3" fill="#000000"/>
<circle cx="529.2" cy="1414.1" r="3.4" fill="#000000"/>
<circle cx="431.5" cy="1421.1" r="5.0" fill="#a30000"/>
<circle cx="143.6" cy="1438.0" r="11.9" fill="#000000"/>
<circle cx="189.0" cy="1440.5" r="3.5" fill="#0a990a"/>
<circle cx="293.6" cy="1444.3" r="3.5" fill="#000000"/>
<circle cx="478.2" cy="1480.8" r="4.5" fill="#a30000"/>
<circle cx="561.5" cy="1489.6" r="5.6" fill="#000000"/>
<circle cx="242.4" cy="1498.8" r="5.6" fill="#0a990a"/>
<circle cx="168.5" cy="1527.3" r="4.0" fill="#000000"/>
<circle cx="320.2" cy="1530.0" r="3.5" fill="#000000"/>
<circle cx="631.3" cy="1540.0" r="12.7" fill="#000000"/>
<circle cx="559.6" cy="1567.9" r="4.3" fill="#000000"/>
<circle cx="253.0" cy="1578.8" r="4.3" fill="#000000"/>
<circle cx="184.8" cy="1610.7" r="4.3" fill="#000000"/>
<circle cx="311.3" cy="1625.2" r="3.5" fill="#000000"/>
<circle cx="455.5" cy="1624.4" r="3.3" fill="#0a990a"/>
<circle cx="532.0" cy="1642.4" r="3.8" fill="#000000"/>
<circle cx="380.2" cy="1653.8" r="3.8" fill="#000000"/>
<circle cx="237.5" cy="1673.8" r="3.5" fill="#000000"/>
<circle cx="242.1" cy="1713.6" r="6.6" fill="#000000"/>
<circle cx="304.7" cy="1713.6" r="3.3" fill="#000000"/>
<circle cx="385.3" cy="1728.8" r="3.5" fill="#000000"/>
<circle cx="471.2" cy="1729.7" r="7.3" fill="#a30000"/>
<circle cx="364.1" cy="1522.3" r="3.0" fill="#000"/>
</g>
<g>
<circle cx="1143.6" cy="1266.3" r="15.5" fill="#000000"/>
<circle cx="1014.4" cy="1314.1" r="3.5" fill="#000000"/>
<circle cx="1081.2" cy="1314.8" r="3.4" fill="#000000"/>
<circle cx="1145.8" cy="1333.0" r="3.6" fill="#0a990a"/>
<circle cx="952.1" cy="1335.6" r="4.0" fill="#000000"/>
<circle cx="1199.3" cy="1371.0" r="4.2" fill="#000000"/>
<circle cx="899.9" cy="1376.7" r="3.3" fill="#a30000"/>
<circle cx="1035.2" cy="1378.7" r="3.5" fill="#000000"/>
<circle cx="970.0" cy="1403.0" r="3.3" fill="#000000"/>
<circle cx="1239.0" cy="1425.9" r="5.3" fill="#000000"/>
<circle cx="1163.0" cy="1429.0" r="3.9" fill="#000000"/>
<circle cx="856.3" cy="1429.9" r="3.3" fill="#a30000"/>
<circle cx="1036.9" cy="1449.0" r="4.0" fill="#a30000"/>
<circle cx="917.3" cy="1454.2" r="3.8" fill="#000000"/>
<circle cx="1098.9" cy="1456.6" r="3.4" fill="#000000"/>
<circle cx="979.9" cy="1476.2" r="4.0" fill="#000000"/>
<circle cx="1262.0" cy="1489.0" r="3.4" fill="#a30000"/>
<circle cx="1193.3" cy="1490.8" r="3.4" fill="#0a990a"/>
<circle cx="841.1" cy="1495.0" r="3.3" fill="#a30000"/>
<circle cx="1127.4" cy="1512.8" r="3.9" fill="#a30000"/>
<circle cx="808.9" cy="1537.1" r="6.8" fill="#000000"/>
<circle cx="979.1" cy="1538.5" r="3.4" fill="#0a990a"/>
<circle cx="1262.0" cy="1554.2" r="3.9" fill="#000000"/>
<circle cx="842.4" cy="1560.6" r="3.4" fill="#a30000"/>
<circle cx="1192.5" cy="1560.2" r="3.3" fill="#0a990a"/>
<circle cx="1120.6" cy="1575.6" r="3.4" fill="#0a990a"/>
<circle cx="921.5" cy="1590.6" r="3.4" fill="#0a990a"/>
<circle cx="1062.1" cy="1597.0" r="4.0" fill="#000000"/>
<circle cx="999.3" cy="1597.9" r="3.4" fill="#a30000"/>
<circle cx="1241.3" cy="1617.4" r="4.0" fill="#0a990a"/>
<circle cx="861.0" cy="1622.2" r="3.2" fill="#0a990a"/>
<circle cx="961.9" cy="1651.2" r="3.8" fill="#000000"/>
<circle cx="1100.1" cy="1659.6" r="3.4" fill="#000000"/>
<circle cx="1259.5" cy="1666.0" r="12.8" fill="#000000"/>
<circle cx="1032.4" cy="1668.7" r="3.0" fill="#0000a0"/>
<circle cx="1205.9" cy="1676.0" r="3.2" fill="#000000"/>
<circle cx="899.4" cy="1676.9" r="3.6" fill="#0a990a"/>
<circle cx="1149.6" cy="1712.7" r="3.8" fill="#0000a0"/>
<circle cx="1087.4" cy="1733.5" r="3.4" fill="#000000"/>
<circle cx="1022.2" cy="1736.4" r="3.6" fill="#000000"/>
<circle cx="929.1" cy="1758.6" r="5.7" fill="#a30000"/>
<circle cx="1051.6" cy="1523.5" r="3.2" fill="#000"/>
</g>
<g>
<circle cx="273.4" cy="1867.4" r="4.5" fill="#9c009c"/>
<circle cx="467.2" cy="1867.3" r="4.5" fill="#000000"/>
<circle cx="371.1" cy="1881.5" r="2.9" fill="#000000"/>
<circle cx="316.0" cy="1888.9" r="2.9" fill="#000000"/>
<circle cx="431.1" cy="1892.2" r="3.2" fill="#000000"/>
<circle cx="265.1" cy="1907.6" r="2.9" fill="#000000"/>
<circle cx="480.9" cy="1917.9" r="3.2" fill="#a30000"/>
<circle cx="393.1" cy="1932.7" r="4.2" fill="#0a990a"/>
<circle cx="217.9" cy="1937.3" r="2.9" fill="#000000"/>
<circle cx="164.1" cy="1939.2" r="5.3" fill="#000000"/>
<circle cx="335.9" cy="1941.1" r="2.9" fill="#000000"/>
<circle cx="522.6" cy="1952.4" r="3.2" fill="#a30000"/>
<circle cx="559.2" cy="1958.8" r="4.8" fill="#0a990a"/>
<circle cx="444.2" cy="1959.3" r="3.2" fill="#0a990a"/>
<circle cx="283.0" cy="1960.0" r="3.1" fill="#a30000"/>
<circle cx="178.2" cy="1983.4" r="3.1" fill="#000000"/>
<circle cx="383.5" cy="1985.7" r="3.1" fill="#a30000"/>
<circle cx="233.7" cy="1990.6" r="3.1" fill="#0a990a"/>
<circle cx="487.6" cy="1996.0" r="3.2" fill="#a30000"/>
<circle cx="327.5" cy="1999.9" r="2.9" fill="#a30000"/>
<circle cx="431.4" cy="2018.2" r="3.5" fill="#000000"/>
<circle cx="275.1" cy="2025.1" r="2.9" fill="#a30000"/>
<circle cx="156.9" cy="2035.4" r="2.9" fill="#0000a0"/>
<circle cx="374.0" cy="2041.1" r="2.6" fill="#a30000"/>
<circle cx="523.1" cy="2041.2" r="3.5" fill="#000000"/>
<circle cx="212.2" cy="2044.0" r="2.9" fill="#9c009c"/>
<circle cx="578.0" cy="2054.3" r="3.2" fill="#000000"/>
<circle cx="472.3" cy="2060.2" r="3.2" fill="#000000"/>
<circle cx="608.7" cy="2072.0" r="4.3" fill="#0a990a"/>
<circle cx="259.8" cy="2080.8" r="2.9" fill="#a30000"/>
<circle cx="147.6" cy="2088.8" r="2.9" fill="#000000"/>
<circle cx="524.5" cy="2099.2" r="3.2" fill="#000000"/>
<circle cx="202.4" cy="2099.4" r="3.8" fill="#000000"/>
<circle cx="579.5" cy="2110.8" r="3.2" fill="#000000"/>
<circle cx="467.8" cy="2118.2" r="3.5" fill="#000000"/>
<circle cx="308.1" cy="2119.5" r="3.1" fill="#000000"/>
<circle cx="408.9" cy="2137.5" r="3.5" fill="#000000"/>
<circle cx="255.3" cy="2138.9" r="2.9" fill="#0000a0"/>
<circle cx="150.0" cy="2144.6" r="2.9" fill="#a30000"/>
<circle cx="514.9" cy="2154.9" r="3.2" fill="#000000"/>
<circle cx="204.3" cy="2157.3" r="2.9" fill="#000000"/>
<circle cx="570.2" cy="2164.0" r="3.7" fill="#a30000"/>
<circle cx="295.7" cy="2180.5" r="3.1" fill="#a30000"/>
<circle cx="399.5" cy="2199.0" r="3.2" fill="#000000"/>
<circle cx="600.7" cy="2204.4" r="4.8" fill="#a30000"/>
<circle cx="240.0" cy="2202.8" r="2.9" fill="#a30000"/>
<circle cx="493.5" cy="2208.6" r="3.2" fill="#000000"/>
<circle cx="141.1" cy="2210.4" r="4.5" fill="#a30000"/>
<circle cx="548.8" cy="2215.3" r="2.9" fill="#0000a0"/>
<circle cx="283.3" cy="2238.6" r="2.9" fill="#000000"/>
<circle cx="204.8" cy="2246.3" r="3.3" fill="#a30000"/>
<circle cx="391.5" cy="2258.2" r="3.0" fill="#0000a0"/>
<circle cx="509.5" cy="2262.1" r="3.2" fill="#0a990a"/>
<circle cx="334.5" cy="2265.9" r="2.9" fill="#000000"/>
<circle cx="462.4" cy="2292.1" r="2.9" fill="#a30000"/>
<circle cx="212.5" cy="2299.0" r="5.5" fill="#000000"/>
<circle cx="296.0" cy="2306.9" r="2.9" fill="#000000"/>
<circle cx="355.9" cy="2317.6" r="2.9" fill="#000000"/>
<circle cx="544.0" cy="2317.5" r="16.6" fill="#a30000"/>
<circle cx="325.6" cy="2353.4" r="5.5" fill="#000000"/>
<circle cx="364.0" cy="2099.5" r="3.0" fill="#000"/>
</g>
<circle cx="854.3" cy="897.3" r="2.2" fill="#000000"/>
<circle cx="853.6" cy="937.6" r="4.3" fill="#000000"/>
<circle cx="853.6" cy="981.1" r="7.8" fill="#000000"/>
<circle cx="852.8" cy="1024.4" r="11.8" fill="#000000"/>
<circle cx="1076.5" cy="844.7" r="7.8" fill="#000000"/>
<circle cx="1075.8" cy="892.2" r="7.8" fill="#a30000"/>
<circle cx="1076.5" cy="935.5" r="7.8" fill="#9c009c"/>
<circle cx="1075.8" cy="986.8" r="7.8" fill="#0000a0"/>
<circle cx="1075.8" cy="1034.9" r="7.8" fill="#0a990a"/>
<circle cx="863.8" cy="2042.9" r="3.1" fill="#000000"/>
<circle cx="863.8" cy="2098.6" r="5.7" fill="#000000"/>
<circle cx="862.9" cy="2159.4" r="11.0" fill="#000000"/>
<circle cx="862.7" cy="2225.9" r="16.9" fill="#000000"/>
<circle cx="1050.6" cy="2034.8" r="11.2" fill="#000000"/>
<circle cx="1051.1" cy="2085.7" r="11.2" fill="#a30000"/>
<circle cx="1051.1" cy="2138.4" r="11.2" fill="#9c009c"/>
<circle cx="1051.4" cy="2190.6" r="11.2" fill="#0000a0"/>
<circle cx="1051.1" cy="2241.0" r="11.2" fill="#0a990a"/>
</svg></body></html>
